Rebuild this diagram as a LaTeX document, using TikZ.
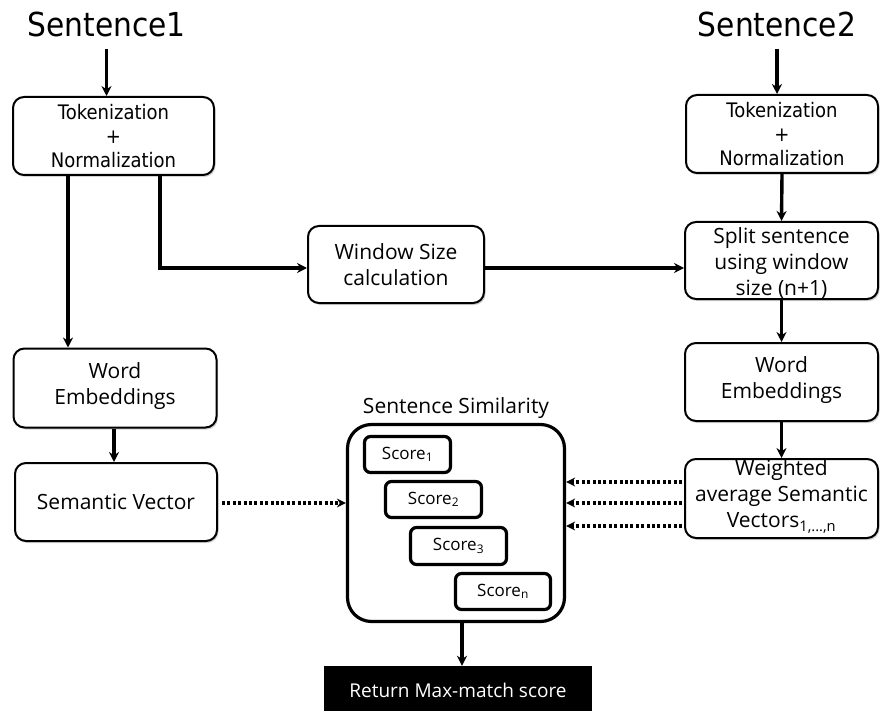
\documentclass[tikz,border=0pt]{standalone}
\usepackage{fontspec}
\setmainfont{Open Sans}
\newfontfamily\tahoma[FakeStretch=0.9]{DejaVu Sans}
\usetikzlibrary{arrows.meta,shadows,calc}

\begin{document}
\begin{tikzpicture}[x=1pt,y=-1pt,
  box/.style={draw, line width=2pt, rounded corners=11pt, fill=white,
    drop shadow={shadow xshift=1.5pt, shadow yshift=-2pt, opacity=0.35}, inner sep=0pt},
  txt/.style={align=center, inner sep=0pt, font=\fontsize{21}{26}\selectfont},
  toktxt/.style={align=center, inner sep=0pt, font=\tahoma\fontsize{20}{24}\selectfont},
  title/.style={inner sep=0pt, anchor=base, font=\tahoma\fontsize{33}{38}\selectfont},
  scorebox/.style={draw, line width=3.2pt, rounded corners=6pt, fill=white, inner sep=0pt,
    font=\fontsize{17}{20}\selectfont},
  arr/.style={line width=3.4pt, -{Stealth[length=10pt,width=10pt]}},
  dotarr/.style={line width=3.4pt, dash pattern=on 3pt off 2.4pt, -{Stealth[length=9pt,width=9pt]}}
]
\useasboundingbox (0,0) rectangle (880,711);

% titles
\node[title] (s1) at (106.5,37) {Sentence1};
\node[title] (s2) at (777,37) {Sentence2};

% left column
\node[box, minimum width=201pt, minimum height=78pt] (tok1) at (113.5,136) {};
\node[toktxt] (tok1t) at (tok1.center) {Tokenization\\+\\Normalization};
\node[box, minimum width=203pt, minimum height=79pt] (we1) at (115,388) {};
\node[txt] (we1t) at ([yshift=1.5pt]we1.center) {Word\\Embeddings};
\node[box, minimum width=202pt, minimum height=78pt] (sem) at (116,502) {};
\node[txt] (semt) at (sem.center) {Semantic Vector};

% middle
\node[box, minimum width=176pt, minimum height=77pt] (win) at (396,264.5) {};
\node[txt] (wint) at (win.center) {Window Size\\calculation};

% right column
\node[box, minimum width=192pt, minimum height=78pt] (tok2) at (782,134) {};
\node[toktxt] (tok2t) at (tok2.center) {Tokenization\\+\\Normalization};
\node[box, minimum width=193pt, minimum height=77pt] (split) at (781.5,260.5) {};
\node[txt] (splitt) at ([yshift=-3pt]split.center) {Split sentence\\using window\\size (n+1)};
\node[box, minimum width=193pt, minimum height=78pt] (we2) at (781.5,382) {};
\node[txt] (we2t) at ([yshift=1.5pt]we2.center) {Word\\Embeddings};
\node[box, minimum width=193pt, minimum height=79pt] (wav) at (781.5,498.5) {};
\node[txt] (wavt) at ([yshift=2pt]wav.center) {Weighted\\average Semantic\\Vectors\textsubscript{1,...,n}};

% sentence similarity
\node[draw, line width=3.2pt, rounded corners=24pt, minimum width=217pt, minimum height=197pt, inner sep=0pt] (big) at (456,523) {};
\node[inner sep=0pt, anchor=base, font=\fontsize{21}{26}\selectfont] (bigl) at (456,413) {Sentence Similarity};
\node[scorebox, minimum width=86pt, minimum height=36pt] (sc1) at (407.5,454.5) {Score\textsubscript{1}};
\node[scorebox, minimum width=96pt, minimum height=36pt] (sc2) at (433.5,499.5) {Score\textsubscript{2}};
\node[scorebox, minimum width=96pt, minimum height=37pt] (sc3) at (458.5,546) {Score\textsubscript{3}};
\node[scorebox, minimum width=95pt, minimum height=36pt] (scn) at (503,591.5) {Score\textsubscript{n}};

% return
\node[fill=black, minimum width=268pt, minimum height=46pt, inner sep=0pt] (ret) at (458,689) {};
\node[inner sep=0pt, anchor=base, text=white, font=\fontsize{19}{23}\selectfont] (rett) at (458,697) {Return Max-match score};

% arrows
\draw[arr] ([yshift=-11pt]s1.south) -- (s1.south |- tok1.north);
\draw[arr] ([yshift=-11pt]s2.south) -- (s2.south |- tok2.north);
\draw[arr] ($(tok1.south west)+(56,0)$) coordinate (c1) -- (c1 |- we1.north);
\draw[arr] ($(tok1.south west)+(148,0)$) coordinate (c2) |- ([yshift=-3.5pt]win.west);
\draw[arr] ([yshift=-3.5pt]win.east) -- ([yshift=-3.5pt]win.east -| split.west);
\draw[arr] (tok2.south) -- (split.north);
\draw[arr] (split.south) -- (we2.north);
\draw[arr] (we2.south) -- (wav.north);
\draw[arr] ($(we1.south)+(-1,0)$) coordinate (c3) -- (c3 |- sem.north);
\draw[arr] ($(big.south)+(6,0)$) coordinate (c4) -- (c4 |- ret.north);

\draw[dotarr] ([xshift=4pt,yshift=-1pt]sem.east) -- ([yshift=-1pt]sem.east -| big.west);
\draw[dotarr] ($(wav.west)+(-2,-16.5)$) coordinate (d1) -- (d1 -| big.east);
\draw[dotarr] ($(wav.west)+(-2,4.5)$) coordinate (d2) -- (d2 -| big.east);
\draw[dotarr] ($(wav.west)+(-2,27.5)$) coordinate (d3) -- (d3 -| big.east);
\end{tikzpicture}
\end{document}
